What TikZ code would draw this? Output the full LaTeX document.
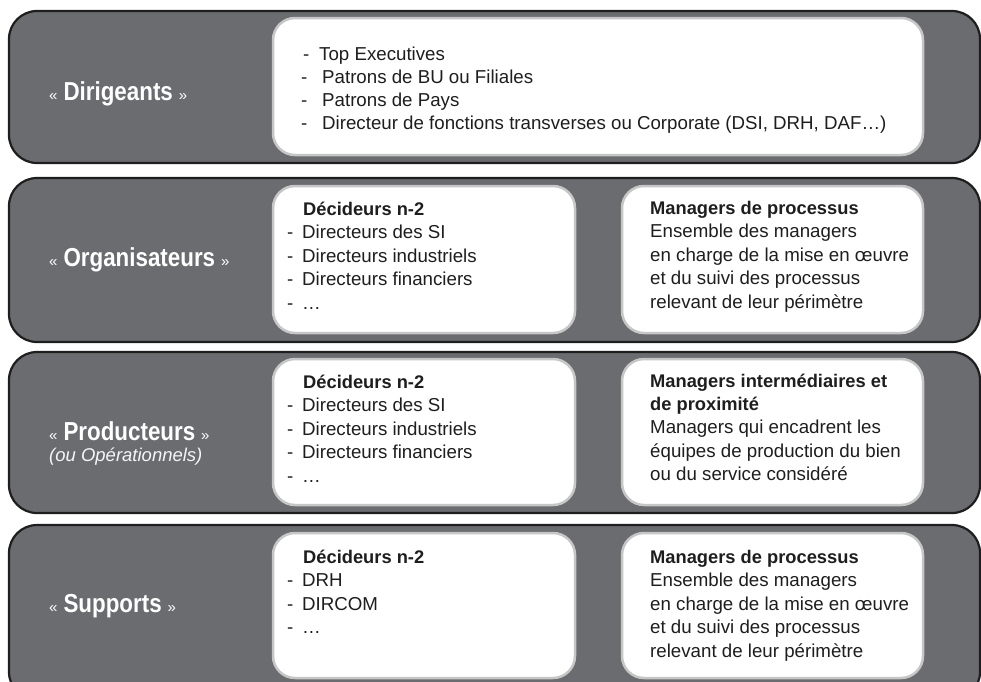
\documentclass[tikz,border=0pt]{standalone}
\usepackage{fontspec}
\setmainfont{Liberation Sans}
\newfontfamily\labfont[FakeStretch=0.86]{Liberation Sans}
\definecolor{bandgray}{HTML}{6B6C70}
\definecolor{boxline}{HTML}{C6C6C6}
\definecolor{ink}{HTML}{1E1E1E}
\newcommand\bandlabel[1]{{\fontsize{15}{17}\selectfont «}\hspace{6pt}{\labfont\bfseries\fontsize{26}{30}\selectfont #1}\hspace{6pt}{\fontsize{15}{17}\selectfont »}}
\newcommand\dashitem[2]{\makebox[#1][l]{-}#2}
\begin{document}
\begin{tikzpicture}[x=1pt,y=-1pt,
  band/.style={fill=bandgray, draw=ink, line width=2.2pt, rounded corners=28pt},
  wbox/.style={fill=white, draw=boxline, line width=2.5pt, rounded corners=22pt},
  txt/.style={anchor=base west, inner sep=0pt, font=\fontsize{18.7}{22}\selectfont, text=ink},
  hdr/.style={txt, font=\fontsize{18.3}{22}\selectfont\bfseries},
  lab/.style={anchor=base west, inner sep=0pt, text=white},
  sublab/.style={lab, font=\fontsize{18.5}{22}\selectfont\itshape, text=white!92!gray}
]
\useasboundingbox (0,0) rectangle (981,681);
\clip (0,0) rectangle (981,681);

% bands
\draw[band] (9,11) rectangle (980,163);
\draw[band] (9,178) rectangle (980,342);
\draw[band] (9,352) rectangle (980,513);
\draw[band] (9,525) rectangle (980,700);

% white boxes
\draw[wbox] (273,18) rectangle (923,155);
\draw[wbox] (273,186) rectangle (575,333);
\draw[wbox] (622,186) rectangle (923,333);
\draw[wbox] (273,359) rectangle (575,505);
\draw[wbox] (622,359) rectangle (923,505);
\draw[wbox] (273,533) rectangle (575,678);
\draw[wbox] (622,533) rectangle (923,678);

% band labels
\node[lab] (lab1) at (49,100) {\bandlabel{Dirigeants}};
\node[lab] (lab2) at (49,266) {\bandlabel{Organisateurs}};
\node[lab] (lab3) at (49,440) {\bandlabel{Producteurs}};
\node[sublab] (lab3b) at (49,461) {(ou Opérationnels)};
\node[lab] (lab4) at (49,612) {\bandlabel{Supports}};

% band 1
\node[txt] (a0) at (303,60) {\dashitem{16pt}{Top Executives}};
\foreach \s [count=\i] in {{Patrons de BU ou Filiales},{Patrons de Pays},{Directeur de fonctions transverses ou Corporate (DSI, DRH, DAF…)}}
  \node[txt] (a\i) at (301,{60+23.2*\i}) {\dashitem{21pt}{\s}};

% band 2
\node[hdr] (b0) at (303,215) {Décideurs n-2};
\foreach \s [count=\i] in {{Directeurs des SI},{Directeurs industriels},{Directeurs financiers},{…}}
  \node[txt] (b\i) at (287,{215+23.5*\i}) {\dashitem{15pt}{\s}};
\node[hdr] (c0) at (650,214) {Managers de processus};
\foreach \s [count=\i] in {{Ensemble des managers},{en charge de la mise en œuvre},{et du suivi des processus},{relevant de leur périmètre}}
  \node[txt] (c\i) at (650,{214+23.5*\i}) {\s};

% band 3
\node[hdr] (d0) at (303,388) {Décideurs n-2};
\foreach \s [count=\i] in {{Directeurs des SI},{Directeurs industriels},{Directeurs financiers},{…}}
  \node[txt] (d\i) at (287,{388+23.5*\i}) {\dashitem{15pt}{\s}};
\node[hdr] (e0) at (650,387) {Managers intermédiaires et};
\node[hdr] (e1) at (650,410.5) {de proximité};
\foreach \s [count=\i] in {{Managers qui encadrent les},{équipes de production du bien},{ou du service considéré}}
  \node[txt] (e\i x) at (650,{410.5+23.3*\i}) {\s};

% band 4
\node[hdr] (f0) at (303,563) {Décideurs n-2};
\foreach \s [count=\i] in {{DRH},{DIRCOM},{…}}
  \node[txt] (f\i) at (287,{563+23.5*\i}) {\dashitem{15pt}{\s}};
\node[hdr] (g0) at (650,563) {Managers de processus};
\foreach \s [count=\i] in {{Ensemble des managers},{en charge de la mise en œuvre},{et du suivi des processus},{relevant de leur périmètre}}
  \node[txt] (g\i) at (650,{563+23.5*\i}) {\s};
\end{tikzpicture}
\end{document}
